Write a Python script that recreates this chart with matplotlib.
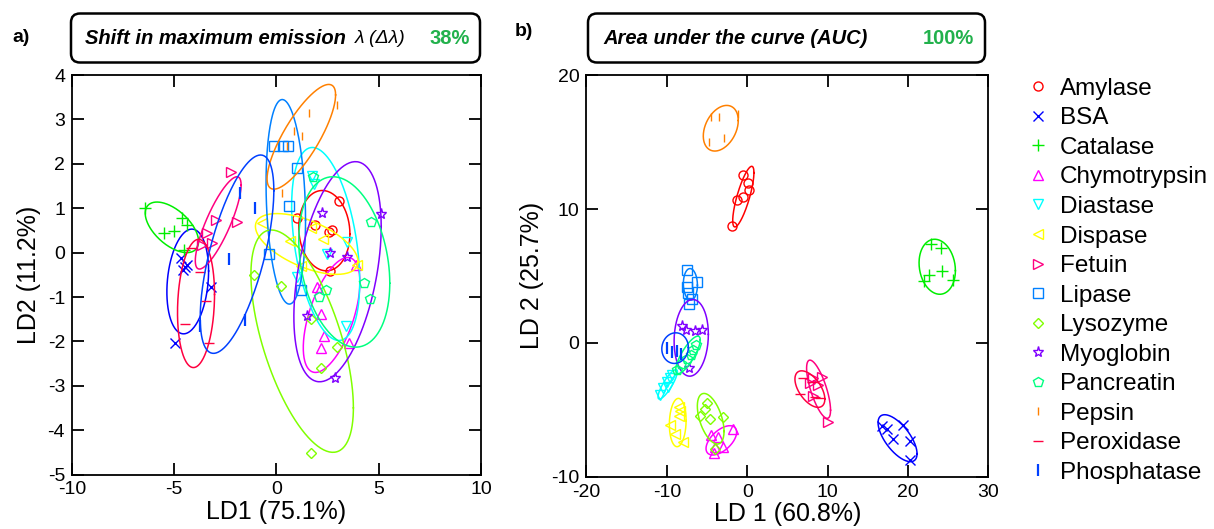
import numpy as np
import matplotlib
matplotlib.use('Agg')
import matplotlib.pyplot as plt
from matplotlib.lines import Line2D
from matplotlib.patches import FancyBboxPatch
from matplotlib.transforms import IdentityTransform

plt.rcParams['font.family'] = ['Liberation Sans', 'DejaVu Sans']
plt.rcParams['axes.unicode_minus'] = False

proteins = ['Amylase', 'BSA', 'Catalase', 'Chymotrypsin', 'Diastase', 'Dispase', 'Fetuin',
            'Lipase', 'Lysozyme', 'Myoglobin', 'Pancreatin', 'Pepsin', 'Peroxidase', 'Phosphatase']

#Panel a) - LDA scores on shift in max emission
a_x = [[3.05, 0.98, 1.88, 2.56, 2.73, 2.6],
       [-4.67, -4.45, -4.55, -4.38, -3.19, -4.95],
       [-6.45, -4.6, -4.38, -5.5, -5.0, -4.52],
       [2.0, 2.2, 2.32, 2.17, 3.54, 3.9],
       [1.75, 1.85, 3.45, 2.45, 1.0, 3.38],
       [-0.7, 1.7, 2.25, 0.65, 3.95, 1.2],
       [-2.22, -2.96, -1.93, -3.4, -3.15, -3.62],
       [-0.1, 0.3, 0.55, 0.98, 0.6, -0.38, 1.18],
       [-1.12, 0.23, 1.67, 2.97, 2.16, 1.7],
       [2.24, 5.13, 2.6, 3.43, 1.47, 2.84],
       [1.8, 4.6, 4.28, 4.57, 2.4, 2.08],
       [2.98, 1.58, 0.85, 1.26, 0.49, 0.28],
       [-3.73, -3.45, -4.45, -3.28, -4.2],
       [-1.76, -1.03, -2.3, -3.75, -1.52]]
a_y = [[1.17, 0.77, 0.62, 0.47, 0.5, -0.42],
       [-0.12, -0.32, -0.40, -0.27, -0.77, -2.03],
       [1.0, 0.78, 0.62, 0.45, 0.48, 0.05],
       [-0.78, -1.39, -1.88, -2.15, -2.03, -0.28],
       [1.73, 1.55, 0.25, -0.02, -0.55, -1.65],
       [0.67, 0.55, 0.3, 0.27, -0.28, -0.3],
       [1.82, 0.74, 0.68, 0.44, 0.21, 0.17],
       [2.41, 2.41, 2.41, 1.9, 1.05, -0.03, -0.84],
       [-0.5, -0.76, -4.52, -2.12, -2.6, -1.5],
       [0.9, 0.88, 0.0, -0.1, -1.43, -2.83],
       [1.71, 0.69, -0.69, -1.05, -0.85, -0.99],
       [3.33, 3.15, 2.73, 2.63, 2.4, 1.34],
       [-0.43, -1.08, -1.6, -2.03, 0.1],
       [1.34, 1.0, -0.15, -1.65, -1.52]]
# ellipses: centre, half width, half height, k = (x of top point - cx)/rx
a_ecx = [2.34, -4.34, -5.115, 2.695, 2.405, 1.48, -2.85, 0.455, 1.255, 2.985, 3.315, 1.215, -3.935, -1.93]
a_ecy = [0.495, -0.65, 0.57, -1.405, 0.195, 0.195, 0.67, 1.145, -1.995, -0.43, -0.21, 2.61, -1.145, -0.035]
a_erx = [1.25, 1.02, 1.305, 1.385, 1.665, 2.51, 1.12, 0.965, 2.505, 2.135, 2.225, 1.675, 0.905, 1.80]
a_ery = [0.905, 1.18, 0.57, 1.295, 2.175, 0.685, 1.04, 2.305, 2.505, 2.48, 1.92, 1.18, 1.445, 2.235]
a_ek = [-0.08, 0.2, -0.56, 0.57, -0.39, -0.58, 0.82, -0.18, -0.60, 0.41, -0.25, 0.80, 0.14, 0.64]

#Panel b) - LDA scores on AUC
b_x = [[-0.57, 0.05, 0.25, -0.5, -1.24, -1.9],
       [16.8, 17.4, 18.15, 19.4, 20.3, 20.2],
       [22.8, 24.15, 24.25, 22.6, 22.0, 25.6],
       [-4.55, -3.6, -1.75, -4.0, -3.0, -4.2],
       [-10.85, -10.45, -10.0, -9.6, -9.8, -9.4],
       [-8.55, -8.35, -8.55, -9.6, -8.95, -7.95],
       [8.2, 9.25, 7.8, 8.8, 8.2, 10.05],
       [-7.5, -6.3, -7.5, -7.4, -6.9, -7.2],
       [-5.05, -5.25, -5.9, -4.65, -3.05, -4.0],
       [-8.15, -7.6, -6.5, -5.65, -7.2],
       [-6.4, -6.7, -7.0, -7.5, -8.2, -8.7],
       [-4.55, -3.5, -4.75, -2.85, -1.2],
       [6.95, 6.55, 8.4, 9.05, 8.0],
       [-10.0, -9.4, -8.8, -8.25]]
b_y = [[12.57, 11.97, 11.4, 10.9, 10.7, 8.73],
       [-6.2, -6.45, -7.15, -6.15, -7.3, -8.75],
       [7.35, 7.05, 5.35, 5.1, 4.6, 4.7],
       [-6.9, -7.0, -6.45, -7.75, -7.75, -8.25],
       [-3.9, -3.4, -2.9, -2.65, -3.3, -2.4],
       [-4.8, -5.1, -5.5, -6.15, -6.8, -7.4],
       [-2.65, -2.55, -3.0, -3.15, -4.0, -5.9],
       [5.45, 4.55, 4.2, 3.7, 3.3, 2.9],
       [-4.5, -4.95, -5.5, -5.7, -5.55, -7.9],
       [1.25, 0.95, 0.9, 0.95, -1.85],
       [-0.15, -0.5, -0.9, -1.2, -1.6, -2.0],
       [16.9, 16.9, 15.0, 15.3, 17.1],
       [-2.65, -3.8, -4.05, -4.15, -2.9],
       [-0.4, -0.7, -0.6, -0.85]]
b_ecx = [-0.49, 18.695, 23.63, -3.225, -9.9, -8.65, 8.87, -7.075, -4.55, -6.97, -7.375, -3.295, 7.79, -8.98]
b_ecy = [10.925, -7.125, 5.685, -7.285, -3.1, -5.955, -3.465, 4.37, -5.67, 0.375, -0.9, 16.035, -3.455, -0.395]
b_erx = [1.32, 2.425, 2.26, 1.905, 1.2, 1.04, 1.49, 0.875, 1.66, 2.13, 1.525, 2.175, 1.86, 1.65]
b_ery = [2.265, 1.755, 2.055, 1.095, 1.1, 1.805, 2.175, 1.18, 1.89, 2.865, 1.4, 1.705, 1.365, 1.145]
b_ek = [0.79, -0.66, -0.14, 0.56, 0.85, 0.08, -0.72, -0.05, -0.5, 0.09, 0.8, 0.34, -0.55, 0.05]

colors = ['#FF0000', '#0000FF', '#00EE00', '#FF00FF', '#00FFFF', '#FFFF00', '#FF0080',
          '#0080FF', '#80FF00', '#8000FF', '#00FF80', '#FF8000', '#FF0040', '#0040FF']
markers = ['o', 'x', '+', '^', 'v', '<', '>', 's', 'D', '*', 'p', '|', '_', '|']
msizes = [6.5, 7, 8, 7, 7, 7, 7, 6.5, 5, 8, 7, 6, 7, 9]
mews = [1, 1, 1, 1, 1, 1, 1, 1, 1, 1, 1, 1, 1, 1.6]
green = '#22B14C'


def drawPanel(ax, xs, ys, ecx, ecy, erx, ery, ek):
    t = np.linspace(0, 2*np.pi, 200)
    for i in range(len(proteins)):
        phi = np.arccos(ek[i])
        ax.plot(ecx[i] + erx[i]*np.cos(t), ecy[i] + ery[i]*np.cos(t - phi),
                color=colors[i], lw=1.1)
        ax.plot(xs[i], ys[i], linestyle='none', marker=markers[i], ms=msizes[i],
                mec=colors[i], mfc='none', mew=mews[i])
    for s in ax.spines.values():
        s.set_linewidth(1.3)
    ax.tick_params(direction='in', length=8.5, width=1.3, top=True, right=True,
                   labelsize=14, pad=5)
    return


fig = plt.figure(figsize=(12.14, 5.29), dpi=100)
axA = fig.add_axes([0.0593, 0.103, 0.3369, 0.755])
axB = fig.add_axes([0.4831, 0.0989, 0.3311, 0.759])

drawPanel(axA, a_x, a_y, a_ecx, a_ecy, a_erx, a_ery, a_ek)
axA.set_xlim(-10, 10)
axA.set_ylim(-5, 4)
axA.set_xticks([-10, -5, 0, 5, 10])
axA.set_yticks(range(-5, 5))
axA.set_xlabel('LD1 (75.1%)', fontsize=18, labelpad=1)
axA.set_ylabel('LD2 (11.2%)', fontsize=18, labelpad=5)

drawPanel(axB, b_x, b_y, b_ecx, b_ecy, b_erx, b_ery, b_ek)
axB.set_xlim(-20, 30)
axB.set_ylim(-10, 20)
axB.set_xticks([-20, -10, 0, 10, 20, 30])
axB.set_yticks([-10, 0, 10, 20])
axB.set_xlabel('LD 1 (60.8%)', fontsize=18, labelpad=1)
axB.set_ylabel('LD 2 (25.7%)', fontsize=18, labelpad=5)

# title boxes (pixel coords)
for x0, w in [(71, 409), (588, 397)]:
    box = FancyBboxPatch((x0, 466.5), w, 49, boxstyle='round,pad=0,rounding_size=9',
                         transform=IdentityTransform(), fill=False, ec='black', lw=1.8)
    fig.patches.append(box)

ty = 0.928
fig.text(0.0099, 0.93, 'a)', fontsize=14, fontweight='bold', va='center')
fig.text(0.070, ty, 'Shift in maximum emission', fontsize=14.5, fontweight='bold',
         style='italic', va='center')
fig.text(0.2924, ty, '\u03bb (\u0394\u03bb)', fontsize=14, style='italic', va='center')
fig.text(0.354, ty, '38%', fontsize=14.5, fontweight='bold', color=green, va='center')

fig.text(0.424, 0.94, 'b)', fontsize=14, fontweight='bold', va='center')
fig.text(0.4967, ty, 'Area under the curve (AUC)', fontsize=14.5, fontweight='bold',
         style='italic', va='center')
fig.text(0.7603, ty, '100%', fontsize=14.5, fontweight='bold', color=green, va='center')

handles = []
for i in range(len(proteins)):
    handles.append(Line2D([], [], linestyle='none', marker=markers[i], ms=msizes[i],
                          mec=colors[i], mfc='none', mew=mews[i]))
fig.legend(handles, proteins, loc='upper left', bbox_to_anchor=(0.8447, 0.853),
           frameon=False, fontsize=17.5, labelspacing=0.31, handlelength=1.0,
           handletextpad=0.42, borderpad=0, borderaxespad=0)

plt.savefig('out.png', dpi=100)
